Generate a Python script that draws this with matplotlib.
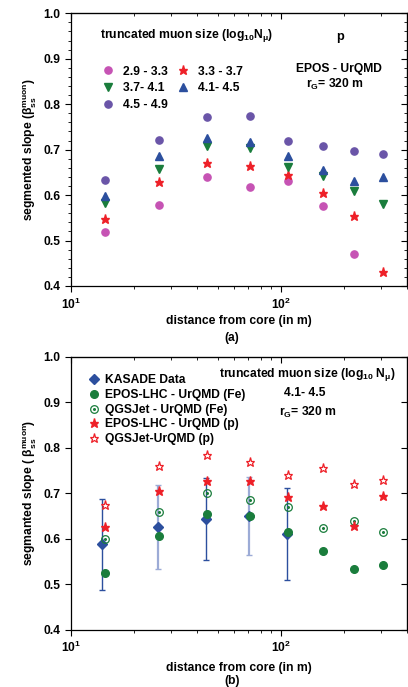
import matplotlib
matplotlib.use("Agg")
import matplotlib.pyplot as plt
import numpy as np

plt.rcParams['font.family'] = ['Liberation Sans', 'DejaVu Sans']
plt.rcParams['font.weight'] = 'bold'
plt.rcParams['axes.labelweight'] = 'bold'
plt.rcParams['mathtext.fontset'] = 'custom'
plt.rcParams['mathtext.rm'] = 'Liberation Sans:bold'
plt.rcParams['mathtext.bf'] = 'Liberation Sans:bold'
plt.rcParams['mathtext.it'] = 'Liberation Sans:bold'
plt.rcParams['mathtext.default'] = 'bf'
FS = 8.7
plt.rcParams['font.size'] = FS

# distance from core (m)
r = [14.6, 26.2, 44.6, 71.5, 108, 159, 223, 307]

# panel (a): EPOS - UrQMD, proton, by truncated muon size bin
s29 = [0.519, 0.578, 0.640, 0.617, 0.631, 0.575, 0.471]
s33 = [0.548, 0.629, 0.671, 0.665, 0.644, 0.605, 0.554, 0.430]
s37 = [0.582, 0.657, 0.707, 0.704, 0.662, 0.642, 0.609, 0.580]
s41 = [0.597, 0.687, 0.726, 0.716, 0.687, 0.655, 0.630, 0.639]
s45 = [0.633, 0.722, 0.771, 0.773, 0.718, 0.709, 0.697, 0.690]

# panel (b): 4.1 - 4.5 bin, data vs simulations
kas_r = [14.0, 26.1, 44.0, 70.2, 106.6]
kas = [0.588, 0.626, 0.643, 0.650, 0.610]
kas_err = [0.100, 0.092, 0.090, 0.086, 0.101]
epos_fe = [0.524, 0.607, 0.654, 0.651, 0.615, 0.574, 0.533, 0.542]
qgs_fe = [0.600, 0.659, 0.700, 0.685, 0.670, 0.623, 0.640, 0.614]
epos_p = [0.625, 0.706, 0.727, 0.727, 0.691, 0.673, 0.628, 0.695]
qgs_p = [0.674, 0.761, 0.784, 0.768, 0.740, 0.755, 0.721, 0.730]

pink = '#c653b4'
red = '#ee2028'
green = '#1a7d3c'
blue = '#2c4f9e'
purple = '#6a55a8'

fig = plt.figure(figsize=(4.08, 6.87), dpi=100)
ax1 = fig.add_axes([0.174, 0.5837, 0.824, 0.397])
ax2 = fig.add_axes([0.174, 0.0834, 0.824, 0.397])


def style(ax, minor_y, pad):
    ax.set_xscale('log')
    ax.set_xlim(10, 400)
    ax.set_ylim(0.4, 1.0)
    ax.set_yticks(np.arange(0.4, 1.01, 0.1))
    ax.set_yticklabels(['%.1f' % v for v in np.arange(0.4, 1.01, 0.1)])
    if minor_y:
        ax.set_yticks(np.arange(0.4, 1.0, 0.02), minor=True)
    else:
        ax.set_yticks([], minor=True)
    ax.tick_params(which='both', direction='out', top=False, right=False, labelsize=FS)
    ax.tick_params(which='major', length=4, width=0.8)
    ax.tick_params(which='minor', length=2.5, width=0.6)
    sec_x = ax.secondary_xaxis('top')
    sec_x.tick_params(which='both', direction='in', labeltop=False)
    sec_x.tick_params(which='major', length=4)
    sec_x.tick_params(which='minor', length=2.5)
    sec_x.set_xticklabels([])
    sec_y = ax.secondary_yaxis('right')
    sec_y.set_yticks(np.arange(0.4, 1.01, 0.1))
    if minor_y:
        sec_y.set_yticks(np.arange(0.4, 1.0, 0.02), minor=True)
    sec_y.tick_params(which='both', direction='in', labelright=False)
    sec_y.tick_params(which='major', length=4)
    sec_y.tick_params(which='minor', length=2.5)
    for s in ax.spines.values():
        s.set_linewidth(0.9)
    ax.set_xlabel('distance from core (in m)', fontsize=FS, labelpad=pad)


# ---- panel (a)
h29, = ax1.plot(r[:7], s29, 'o', color=pink, ms=5.2, ls='none', label='2.9 - 3.3')
h33, = ax1.plot(r, s33, '*', color=red, ms=6.5, ls='none', label='3.3 - 3.7')
h37, = ax1.plot(r, s37, 'v', color=green, ms=6, ls='none', label='3.7- 4.1')
h41, = ax1.plot(r, s41, '^', color=blue, ms=6, ls='none', label='4.1- 4.5')
h45, = ax1.plot(r, s45, 'o', color=purple, ms=5.2, ls='none', label='4.5 - 4.9')
style(ax1, True, 2.5)
ax1.set_ylabel(r'segmented slope ($\beta_{ss}^{muon}$)', fontsize=FS, labelpad=3)
ax1.legend(handles=[h29, h37, h45, h33, h41], ncol=2, frameon=False, fontsize=FS,
           loc='upper left', bbox_to_anchor=(0.062, 0.83), handletextpad=0.45,
           columnspacing=0.45, labelspacing=0.4, handlelength=1.6, borderpad=0)
ax1.text(0.085, 0.919, r'truncated muon size (log$_{10}$N$_\mu$)', transform=ax1.transAxes,
         fontsize=FS, va='center')
ax1.text(0.79, 0.913, 'p', transform=ax1.transAxes, fontsize=FS + 0.5, va='center')
ax1.text(0.67, 0.794, 'EPOS - UrQMD', transform=ax1.transAxes, fontsize=FS, va='center')
ax1.text(0.70, 0.739, r'r$_G$= 320 m', transform=ax1.transAxes, fontsize=FS, va='center')
fig.text(0.5686, 1 - 337.5 / 687, '(a)', ha='center', va='center', fontsize=FS)

# ---- panel (b)
light = [1, 3]
for i in range(len(kas)):
    c = '#9cabd6' if i in light else blue
    ax2.errorbar(kas_r[i], kas[i], yerr=kas_err[i], fmt='none', ecolor=c,
                 elinewidth=1.6 if i in light else 1.0, capsize=2.5, capthick=1.0)
hk, = ax2.plot(kas_r, kas, 'D', color=blue, ms=5.5, ls='none', label='KASADE Data')
hef, = ax2.plot(r, epos_fe, 'o', color=green, ms=5.5, ls='none', label='EPOS-LHC - UrQMD (Fe)')
hqf, = ax2.plot(r, qgs_fe, 'o', mfc='none', mec=green, mew=0.9, ms=5.5, ls='none')
hqf2, = ax2.plot(r, qgs_fe, 'o', color=green, ms=1.2, ls='none')
hep, = ax2.plot(r, epos_p, '*', color=red, ms=6.5, ls='none', label='EPOS-LHC - UrQMD (p)')
hqp, = ax2.plot(r, qgs_p, '*', mfc='white', mec=red, mew=0.9, ms=6.5, ls='none')
style(ax2, False, 5)
ax2.set_ylabel(r'segmanted slope ( $\beta_{ss}^{muon}$)', fontsize=FS, labelpad=3)
ax2.legend(handles=[hk, hef, (hqf, hqf2), hep, hqp],
           labels=['KASADE Data', 'EPOS-LHC - UrQMD (Fe)', 'QGSJet - UrQMD (Fe)',
                   'EPOS-LHC - UrQMD (p)', 'QGSJet-UrQMD (p)'],
           frameon=False, fontsize=FS, loc='upper left', bbox_to_anchor=(0.03, 0.958),
           handletextpad=0.3, labelspacing=0.22, handlelength=1.2, borderpad=0)
ax2.text(0.44, 0.936, r'truncated muon size (log$_{10}$ N$_\mu$)', transform=ax2.transAxes,
         fontsize=FS, va='center')
ax2.text(0.635, 0.868, '4.1- 4.5', transform=ax2.transAxes, fontsize=FS, va='center')
ax2.text(0.62, 0.798, r'r$_G$= 320 m', transform=ax2.transAxes, fontsize=FS, va='center')
fig.text(0.5686, 1 - 681 / 687, '(b)', ha='center', va='center', fontsize=FS)

fig.savefig('out.png', dpi=100)
